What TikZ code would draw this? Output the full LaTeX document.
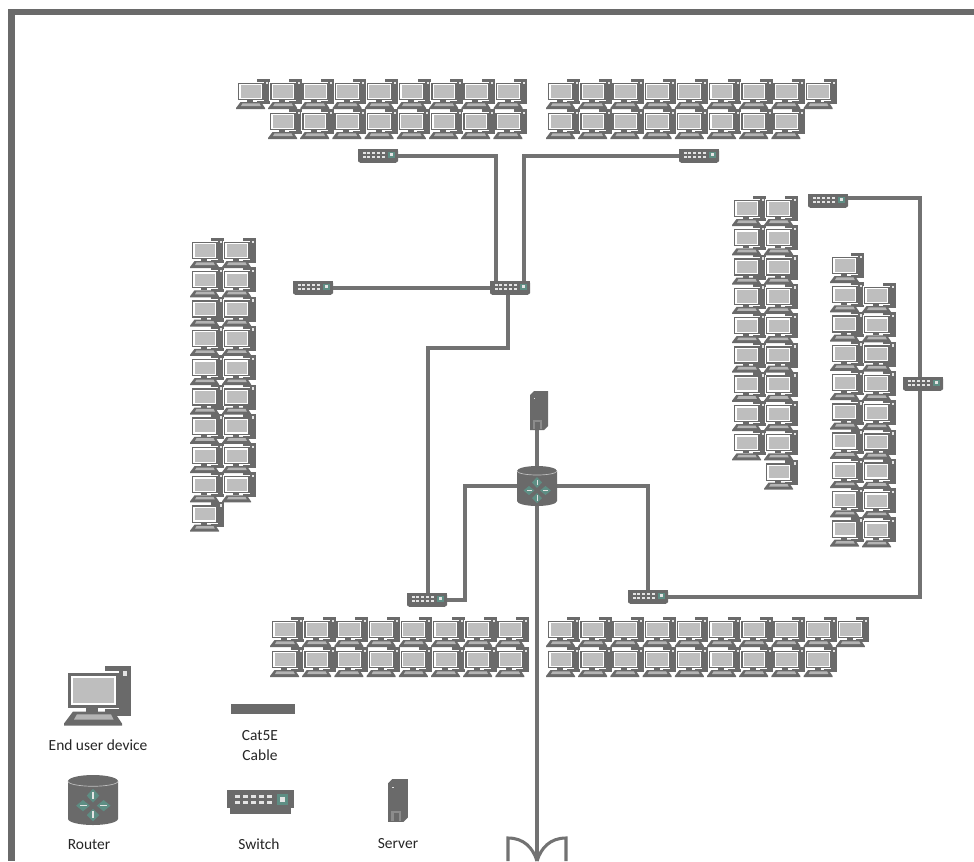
\documentclass[tikz,border=0pt]{standalone}
\usepackage{fontspec}
\setmainfont{Carlito}
\definecolor{dk}{HTML}{6A6A6A}
\definecolor{ln}{HTML}{727272}
\definecolor{scr}{HTML}{BEBEBE}
\definecolor{teal1}{HTML}{5E8E84}
\definecolor{lt}{HTML}{E4E4E4}
\definecolor{kb}{HTML}{B4B4B4}
\definecolor{svp}{HTML}{8C8C8C}
\tikzset{
  wire/.style={draw=ln,line width=2.3pt,line join=miter},
  lbl/.style={font=\fontsize{11.6}{15}\selectfont,text=black!85,align=center,inner sep=0pt},
  swnode/.style={fill=dk,rectangle,rounded corners=1pt,minimum width=30pt,minimum height=9.6pt,inner sep=0pt},
  rtnode/.style={rectangle,minimum width=30pt,minimum height=30pt,inner sep=0pt},
  svnode/.style={rectangle,minimum width=13.5pt,minimum height=29pt,inner sep=0pt},
  pcicon/.pic={
    \fill[dk] (20.5,0) -- (33.5,0) -- (33.5,25) -- (20.5,25) -- cycle;
    \fill[lt] (29.5,2.5) rectangle (31.5,5);
    \fill[white] (1.2,2.8) rectangle (27.5,21.8);
    \fill[dk] (2,3.6) rectangle (27.5,21);
    \fill[white] (3.4,5) rectangle (26.2,19.8);
    \fill[scr] (4.6,6.4) rectangle (25.2,18.6);
    \fill[dk] (11,21) rectangle (17,23);
    \fill[dk] (4.5,23) -- (25,23) -- (29,29) -- (29,30) -- (0,30) -- (0,29) -- cycle;
    \fill[kb] (6.5,24.4) -- (23.5,24.4) -- (24.8,27) -- (5,27) -- cycle;
  },
  swicon/.pic={
    \fill[dk] (0,0) rectangle (40,10.5);
    \fill[dk] (2,10.5) rectangle (38,14);
    \foreach \k in {0,1,2,3,4}{
      \fill[lt] (4.5+\k*4.8,3) rectangle (7.5+\k*4.8,5);
      \fill[lt] (4.5+\k*4.8,6.5) rectangle (7.5+\k*4.8,8.5);
    }
    \fill[teal1] (30,2.5) rectangle (36.5,9);
    \fill[lt] (31.7,4.2) rectangle (34.8,7.3);
  },
  rticon/.pic={
    \fill[dk] (0,5) arc[x radius=20,y radius=5,start angle=180,end angle=360] -- (40,35) arc[x radius=20,y radius=5,start angle=0,end angle=180] -- cycle;
    \draw[lt!70!dk,line width=.5pt] (0,5) arc[x radius=20,y radius=4,start angle=180,end angle=0];
    \fill[teal1] (20,11) -- (25,16.5) -- (20,22) -- (15,16.5) -- cycle;
    \fill[teal1] (20,27) -- (25,32) -- (20,37) -- (15,32) -- cycle;
    \fill[teal1] (6.5,24.5) -- (12,20) -- (17.5,24.5) -- (12,29) -- cycle;
    \fill[teal1] (23,24.5) -- (28.5,20) -- (34,24.5) -- (28.5,29) -- cycle;
    \fill[lt] (19.5,13.5) rectangle (20.5,19);
    \fill[lt] (19.5,29) rectangle (20.5,34.5);
    \fill[lt] (9.5,24) rectangle (15,25);
    \fill[lt] (25.5,24) rectangle (31,25);
  },
  svicon/.pic={
    \fill[dk] (4,0) -- (18,0) -- (18,35) -- (14,39) -- (0,39) -- (0,4) -- cycle;
    \fill[lt] (4,7) rectangle (5,8);
    \fill[svp] (3,29) rectangle (12,38);
    \fill[dk] (5,31) rectangle (10,38);
  }
}
\newcommand\pcrow[3]{\foreach \i in {1,...,#3}{\pic at ({#1+(\i-1)*32.2},#2) {pcicon};}}
\newcommand\pccol[3]{\foreach \i in {1,...,#3}{\pic at (#1,{#2+(\i-1)*29.3}) {pcicon};}}
\begin{document}
\begin{tikzpicture}[x=0.75pt,y=-0.75pt]
\useasboundingbox (0,0) rectangle (974,861);
\fill[white] (0,0) rectangle (974,861);
% frame
\fill[dk] (8,9) rectangle (974,15);
\fill[dk] (8,9) rectangle (15,861);
% network nodes
\node[swnode] (swTL) at (378,156) {};
\node[swnode] (swTR) at (699,156) {};
\node[swnode] (swL) at (313,288) {};
\node[swnode] (swC) at (510,288) {};
\node[swnode] (swRT) at (828,201) {};
\node[swnode] (swRM) at (923,384) {};
\node[swnode] (swBL) at (427,600) {};
\node[swnode] (swBR) at (648,597) {};
\node[rtnode] (rt) at (537,486) {};
\node[svnode] (sv) at (539,411) {};
\coordinate (hubA) at (496,281);
\coordinate (hubB) at (524,281);
\coordinate (hubD) at (508,295);
\coordinate (blT) at (428,593);
\coordinate (brT) at (648,590);
\coordinate (rtS) at (537,506);
\coordinate (rtN) at (537,466);
\coordinate (svS) at (537,430);
\coordinate (feed) at (537,861);
\coordinate (rtW) at (517,486);
\coordinate (rtE) at (557,486);
\coordinate (stepA) at (428,348);
\coordinate (stepB) at (465,486);
\coordinate (stepC) at (920,597);
\coordinate (stepD) at (920,198);
\coordinate (rtAnchor) at (848,198);
\coordinate (arcL) at (508,838);
\coordinate (arcR) at (566,838);
\coordinate (arcLb) at (508,861);
\coordinate (arcRb) at (566,861);
% connectors
\draw[wire] (swTL.east) -| (hubA);
\draw[wire] (swTR.west) -| (hubB);
\draw[wire] (swL.east) -- (swC.west);
\draw[wire] (hubD) |- (stepA) -- (blT);
\draw[wire] (swBL.east) -| (stepB) -- (rtW);
\draw[wire] (rtE) -| (brT);
\draw[wire] (swBR.east) -- (stepC) -- (stepD) -- (rtAnchor);
\draw[wire] (svS) -- (rtN);
\draw[wire] (rtS) -- (feed);
% horn at the bottom
\draw[wire] (arcLb) -- (arcL) .. controls (524,838) and (533,848) .. (feed);
\draw[wire] (arcRb) -- (arcR) .. controls (550,838) and (541,848) .. (feed);
% device icons
\foreach \n/\x/\y in {swTL/358/149,swTR/679/149,swL/293/281,swC/490/281,swRT/808/194,swRM/903/377,swBL/407/593,swBR/628/590}{\pic at (\x,\y) {swicon};}
\pic at (517,466) {rticon};
\pic at (530,391) {svicon};
% PCs: top
\pcrow{236}{79}{9}
\pcrow{268}{109}{8}
\pcrow{546}{79}{9}
\pcrow{546}{109}{8}
% left
\pccol{190}{238}{10}
\pccol{222}{238}{9}
% right A
\pccol{732}{196}{9}
\pccol{764}{196}{10}
% right B
\pccol{830}{253}{10}
\pccol{862}{283}{9}
% bottom
\pcrow{270}{617}{8}
\pcrow{270}{647}{8}
\pcrow{546}{617}{10}
\pcrow{546}{647}{9}
% legend
\pic[scale=2] at (64,665.5) {pcicon};
\node[lbl] (tPC) at (98,745) {End user device};
\fill[dk] (231,704) rectangle (295,714);
\node[lbl] (tCa) at (260,746) {Cat5E\\Cable};
\pic[scale=1.25] at (68,775) {rticon};
\node[lbl] (tRo) at (89,845) {Router};
\pic[scale=1.68] at (227,790) {swicon};
\node[lbl] (tSw) at (259,844) {Switch};
\pic[scale=1.1] at (388,779) {svicon};
\node[lbl] (tSv) at (398,844) {Server};
\end{tikzpicture}
\end{document}
